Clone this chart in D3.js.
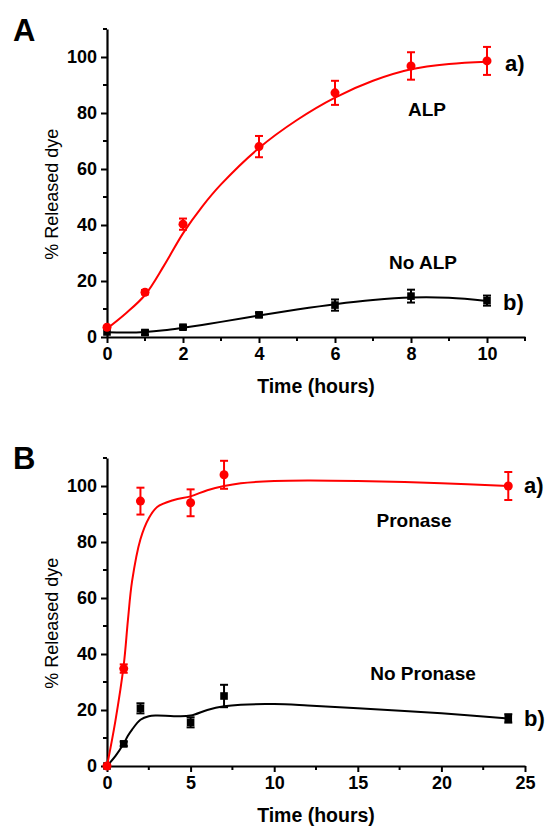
<!DOCTYPE html>
<html>
<head>
<meta charset="utf-8">
<script src="https://cdn.jsdelivr.net/npm/d3@7"></script>
<style>
  body { margin: 0; background: #fff; }
  svg { display: block; font-family: "Liberation Sans", Arial, sans-serif; }
</style>
</head>
<body>
<div id="chart"></div>
<script>
// ---- data ----
// Panel A (ALP)
const timeA = [0, 1, 2, 4, 6, 8, 10];
const alpRelease = [3.5, 16, 40.3, 68, 87.2, 96.8, 98.6];
const alpErr = [0, 0.8, 2, 3.8, 4.3, 4.9, 5];
const noAlpRelease = [1.8, 1.6, 3.5, 7.9, 11.4, 14.6, 13];
const noAlpErr = [0, 0.8, 0.6, 0.8, 2, 2.3, 1.8];
// fitted curves (A)
const fitTimeA = [0, 0.5, 1, 1.5, 2, 2.5, 3, 4, 5, 6, 7, 8, 9, 10];
const alpFit = [3, 8.5, 15, 25.5, 37, 46.5, 54.5, 67.5, 77.5, 85.5, 91.5, 95.6, 97.5, 98.3];
const noAlpFit = [1.7, 1.6, 1.8, 2.4, 3.3, 4.3, 5.4, 7.7, 9.8, 11.7, 13.2, 14.1, 14, 12.9];

// Panel B (Pronase)
const timeB = [0, 1, 2, 5, 7, 24];
const proRelease = [0, 34.8, 94.6, 94, 104, 100];
const proErr = [0, 1.5, 4.8, 4.8, 5, 5];
const noProRelease = [0, 7.9, 20.6, 15.6, 25, 17];
const noProErr = [0, 0.8, 1.8, 1.8, 4, 1.5];
// fitted curves (B)
const fitTimeB = [0, 0.5, 1, 1.25, 1.5, 2, 2.5, 3, 4, 5, 6, 7, 8, 10, 12, 15, 20, 24];
const proFit = [0, 16, 36, 52, 66, 81, 88.5, 92.5, 95, 96.3, 98.5, 100, 101, 101.8, 102, 101.8, 101, 100];
const noProFit = [0, 3.5, 8, 10.8, 13, 16.5, 17.8, 18, 17.8, 18, 20, 21.3, 21.9, 22.1, 21.6, 20.6, 18.8, 17];

const yTicks = [0, 20, 40, 60, 80, 100];
const yMinor = [10, 30, 50, 70, 90, 110];
const xTicksA = [0, 2, 4, 6, 8, 10];
const xMinorA = [1, 3, 5, 7, 9, 11];
const xTicksB = [0, 5, 10, 15, 20, 25];
const xMinorB = [2.5, 7.5, 12.5, 17.5, 22.5];

const width = 547, height = 831;
const red = "#ff0000";

const svg = d3.select("#chart").append("svg")
    .attr("width", width)
    .attr("height", height);

function panel(cfg) {
  const x = d3.scaleLinear().domain(cfg.xDomain).range([107, 525]);
  const y = d3.scaleLinear().domain([0, 110]).range([cfg.bottom, cfg.bottom - 308]);

  const g = svg.append("g");

  // panel letter
  g.append("text")
      .attr("x", 13).attr("y", cfg.letterY)
      .style("font-size", "31px").style("font-weight", "bold")
      .text(cfg.letter);

  // minor ticks
  g.append("g").selectAll("line").data(cfg.xMinor).join("line")
      .attr("x1", d => x(d)).attr("x2", d => x(d))
      .attr("y1", cfg.bottom).attr("y2", cfg.bottom + 4)
      .attr("stroke", "#000").attr("stroke-width", 2);
  g.append("g").selectAll("line").data(yMinor).join("line")
      .attr("y1", d => y(d)).attr("y2", d => y(d))
      .attr("x1", 107).attr("x2", 103)
      .attr("stroke", "#000").attr("stroke-width", 2);

  const xAxis = g.append("g")
      .attr("transform", `translate(0,${cfg.bottom})`)
      .call(d3.axisBottom(x).tickValues(cfg.xTicks).tickSize(6).tickSizeOuter(0).tickPadding(4));
  const yAxis = g.append("g")
      .attr("transform", "translate(107,0)")
      .call(d3.axisLeft(y).tickValues(yTicks).tickSize(6).tickSizeOuter(0).tickPadding(4));

  [xAxis, yAxis].forEach(a => {
    a.select(".domain").attr("stroke-width", 2.2);
    a.selectAll(".tick line").attr("stroke-width", 2);
    a.selectAll(".tick text")
        .style("font-size", "18px").style("font-weight", "bold")
        .style("font-family", "'Liberation Sans', Arial, sans-serif")
        .attr("fill", "#000");
  });

  // axis titles
  g.append("text")
      .attr("x", 316).attr("y", cfg.bottom + 56)
      .attr("text-anchor", "middle")
      .style("font-size", "19.5px").style("font-weight", "bold")
      .text("Time (hours)");
  g.append("text")
      .attr("transform", `translate(58,${y(51)}) rotate(-90)`)
      .attr("text-anchor", "middle")
      .style("font-size", "18px")
      .text("% Released dye");

  const line = d3.line().x(d => x(d[0])).y(d => y(d[1])).curve(d3.curveCatmullRom.alpha(0.5));

  // fitted curves
  g.append("path")
      .attr("d", line(d3.zip(cfg.fitTime, cfg.fitB)))
      .attr("fill", "none").attr("stroke", "#000").attr("stroke-width", 2);
  g.append("path")
      .attr("d", line(d3.zip(cfg.fitTime, cfg.fitA)))
      .attr("fill", "none").attr("stroke", red).attr("stroke-width", 2);

  // error bars + markers
  function series(vals, errs, color, shape) {
    const data = d3.zip(cfg.time, vals, errs);
    const eb = g.append("g").attr("stroke", color).attr("stroke-width", 2);
    data.filter(d => d[2] > 0).forEach(d => {
      const cx = x(d[0]), y0 = y(d[1] - d[2]), y1 = y(d[1] + d[2]);
      eb.append("line").attr("x1", cx).attr("x2", cx).attr("y1", y0).attr("y2", y1);
      eb.append("line").attr("x1", cx - 4).attr("x2", cx + 4).attr("y1", y0).attr("y2", y0);
      eb.append("line").attr("x1", cx - 4).attr("x2", cx + 4).attr("y1", y1).attr("y2", y1);
    });
    if (shape === "circle") {
      g.append("g").selectAll("circle").data(data).join("circle")
          .attr("cx", d => x(d[0])).attr("cy", d => y(d[1]))
          .attr("r", 4.5).attr("fill", color);
    } else {
      g.append("g").selectAll("rect").data(data).join("rect")
          .attr("x", d => x(d[0]) - 3.8).attr("y", d => y(d[1]) - 3.8)
          .attr("width", 7.6).attr("height", 7.6).attr("fill", color);
    }
  }
  series(cfg.seriesB, cfg.errB, "#000", "square");
  series(cfg.seriesA, cfg.errA, red, "circle");

  // annotations
  cfg.notes.forEach(n => {
    g.append("text")
        .attr("x", n.x).attr("y", n.y)
        .attr("text-anchor", n.anchor || "start")
        .style("font-size", n.size + "px").style("font-weight", "bold")
        .text(n.text);
  });
}

panel({
  letter: "A", letterY: 41, bottom: 337,
  xDomain: [0, 11], xTicks: xTicksA, xMinor: xMinorA,
  time: timeA, seriesA: alpRelease, errA: alpErr, seriesB: noAlpRelease, errB: noAlpErr,
  fitTime: fitTimeA, fitA: alpFit, fitB: noAlpFit,
  notes: [
    {text: "a)", x: 505, y: 71, size: 22},
    {text: "ALP", x: 427, y: 116, size: 19, anchor: "middle"},
    {text: "No ALP", x: 423, y: 269, size: 19, anchor: "middle"},
    {text: "b)", x: 503, y: 310, size: 22}
  ]
});

panel({
  letter: "B", letterY: 469, bottom: 766,
  xDomain: [0, 25], xTicks: xTicksB, xMinor: xMinorB,
  time: timeB, seriesA: proRelease, errA: proErr, seriesB: noProRelease, errB: noProErr,
  fitTime: fitTimeB, fitA: proFit, fitB: noProFit,
  notes: [
    {text: "a)", x: 524, y: 493, size: 22},
    {text: "Pronase", x: 414, y: 527, size: 19, anchor: "middle"},
    {text: "No Pronase", x: 423, y: 680, size: 19, anchor: "middle"},
    {text: "b)", x: 524, y: 726, size: 22}
  ]
});
</script>
</body>
</html>
